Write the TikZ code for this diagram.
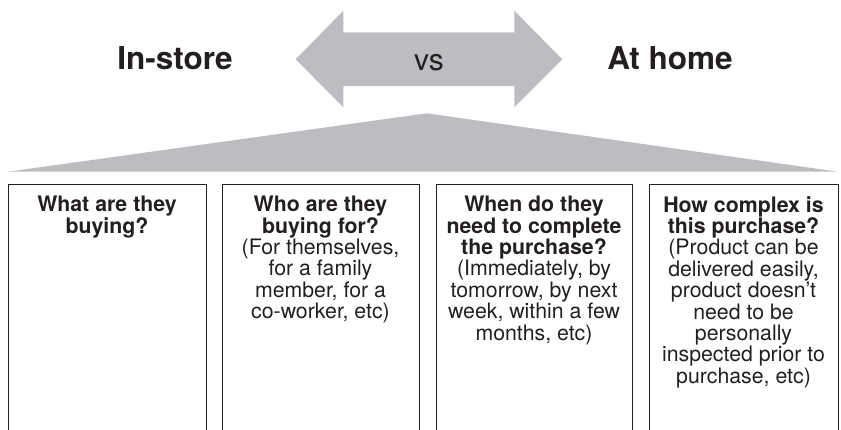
\documentclass[tikz,border=0pt]{standalone}
\usepackage{fontspec}
\setmainfont{TeX Gyre Heros}
\definecolor{arrowgray}{RGB}{188,189,192}
\definecolor{inkgray}{RGB}{35,31,32}
\tikzset{
  colbox/.style={draw=inkgray,line width=0.8pt},
  coltext/.style={anchor=north,inner sep=0pt,align=center,text=inkgray,
    font=\fontsize{21.3}{21.4}\selectfont},
  side/.style={inner sep=0pt,text=inkgray,font=\fontsize{31.5}{34}\selectfont\bfseries}
}
\begin{document}
\begin{tikzpicture}[x=1pt,y=-1pt]
\clip (0,0) rectangle (841,429);
% double arrow and roof
\fill[arrowgray] (295.7,59.3) -- (343.3,10.7) -- (343.3,32.3) -- (514.3,32.3)
  -- (514.3,10.7) -- (562.3,59.3) -- (514.3,107.3) -- (514.3,86)
  -- (343.3,86) -- (343.3,107.3) -- cycle;
\fill[arrowgray] (8,171.7) -- (426.7,113.3) -- (838,171.7) -- cycle;
\node[inner sep=0pt,anchor=base,text=inkgray,font=\fontsize{30}{32}\selectfont] (vs) at (429,70.5) {vs};
\node[side,anchor=base] (store) at (175,69.3) {In-store};
\node[side,anchor=base] (home) at (670,69.3) {At home};
% columns
\draw[colbox] (8,184) rectangle (206,440);
\draw[colbox] (222,184) rectangle (419,440);
\draw[colbox] (436,184) rectangle (632,440);
\draw[colbox] (649,184) rectangle (838,440);
\node[coltext] (what) at (107,196) {\textbf{What are they}\\\textbf{buying?}};
\node[coltext] (who) at (320.5,196) {\textbf{Who are they}\\\textbf{buying for?}\\(For themselves,\\for a family\\member, for a\\co-worker, etc)};
\node[coltext] (when) at (534,196) {\textbf{When do they}\\\textbf{need to complete}\\\textbf{the purchase?}\\(Immediately, by\\tomorrow, by next\\week, within a few\\months, etc)};
\node[coltext] (how) at (743.5,196) {\textbf{How complex is}\\\textbf{this purchase?}\\(Product can be\\delivered easily,\\product doesn't\\need to be\\personally\\inspected prior to\\purchase, etc)};
\end{tikzpicture}
\end{document}
